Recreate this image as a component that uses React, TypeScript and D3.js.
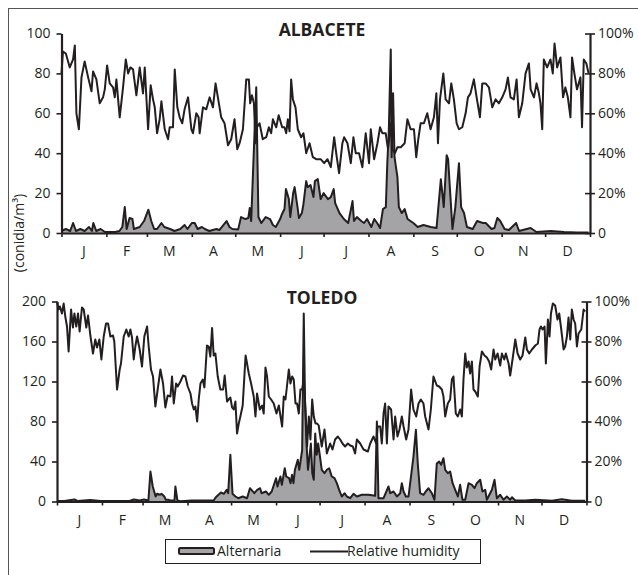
import React, { useEffect, useRef } from "react";
import * as d3 from "d3";

// month labels and the day each month starts on
const months = ["J", "F", "M", "A", "M", "J", "J", "A", "S", "O", "N", "D"];
const monthStarts = [0, 31, 59, 90, 120, 151, 181, 212, 243, 273, 304, 334, 365];
const albCountTicks = [0, 20, 40, 60, 80, 100];
const tolCountTicks = [0, 40, 80, 120, 160, 200];
const humidityTicks = [0, 20, 40, 60, 80, 100];

// [day of year, value]
const albHumidity: [number, number][] = [
  [0, 80], [1, 91], [3, 90], [5.7, 83], [8, 87], [9.2, 94], [10.3, 60], [12, 52], [13.8, 78], [16, 86],
  [18.4, 78], [20.7, 71], [21.8, 81], [24.1, 77], [26.4, 65], [28.7, 68], [29.9, 72], [31.5, 84], [33.3, 75],
  [35.6, 73], [36.8, 68], [37.9, 77], [40.2, 58], [42.5, 73], [44.4, 87], [46, 80], [47.6, 83], [49.4, 82],
  [51.7, 69], [54, 83], [56.3, 70], [57.5, 83], [59.8, 52], [61.6, 74], [63.2, 67], [64.4, 63], [66, 50],
  [67.8, 57], [69, 66], [71.3, 52], [73.6, 47], [74.7, 53], [77, 53], [78.2, 82], [80, 63], [81.6, 58],
  [83.4, 55], [85, 62], [87.4, 68], [89.7, 52], [90.8, 50], [93.1, 60], [94.7, 58], [95.4, 50], [97.7, 63],
  [100, 62], [102.3, 68], [104.6, 63], [106.4, 75], [108, 68], [110.3, 58], [112.6, 55], [115, 44],
  [117.2, 47], [119.5, 57], [121.4, 42], [123, 45], [125.3, 52], [127.6, 77], [129.4, 77], [130.3, 65],
  [131.5, 69], [132.9, 65], [134, 45], [135, 53], [136.8, 55], [139, 47], [141.4, 48], [143.2, 53],
  [144.8, 50], [146, 57], [148.3, 53], [150, 59], [152.4, 53], [154, 53], [155.2, 50], [156.3, 57],
  [157.5, 51], [158.6, 77], [159.8, 67], [161.6, 63], [163.2, 52], [165.5, 48], [167.1, 50], [169, 40],
  [171.3, 45], [173.6, 38], [175.9, 37], [178.2, 37], [179, 37], [181.4, 35], [183.7, 37], [186, 33],
  [188.3, 48], [190.1, 38], [191.7, 30], [194, 45], [195.2, 48], [197.5, 45], [199.8, 35], [201.6, 48],
  [203.2, 40], [205.5, 40], [207.8, 33], [210.1, 50], [212.4, 35], [213.6, 52], [215.9, 37], [218.2, 45],
  [220, 53], [221.6, 50], [223.9, 50], [225.5, 42], [227.4, 55], [228.5, 42], [230.3, 40], [232, 43],
  [234.3, 43], [237, 45], [238.9, 57], [241.1, 52], [243.4, 52], [245, 38], [246.4, 47], [248, 55],
  [250.3, 55], [252.6, 60], [254.9, 52], [257.2, 58], [258.9, 70], [260, 45], [261.4, 67], [263.7, 80],
  [265.3, 67], [267.6, 65], [269.2, 75], [271, 67], [272.9, 55], [274.5, 52], [276.8, 53], [279.1, 60],
  [280.7, 68], [282.5, 70], [284.8, 77], [286.7, 68], [289, 58], [290.6, 75], [292.9, 75], [295.2, 73],
  [297.5, 63], [299.8, 67], [302.1, 65], [304.4, 68], [306.7, 72], [308.3, 78], [310.1, 68], [312.4, 67],
  [314.3, 77], [315.9, 58], [318.2, 65], [320.5, 80], [322.8, 85], [324, 72], [326.3, 68], [328.1, 75],
  [329.7, 70], [330.8, 65], [332, 52], [333.1, 87], [335.4, 83], [337.7, 87], [339.3, 80], [340.5, 95],
  [342.3, 83], [344.6, 88], [346.4, 68], [348, 73], [349.7, 68], [351.5, 58], [352.6, 88], [354.2, 80],
  [356, 72], [358.4, 78], [359.5, 53], [360.7, 87], [362.5, 85], [364, 80],
];

const albAlternaria: [number, number][] = [
  [0, 1], [3, 2], [6, 1], [8, 5], [10, 1], [13, 2], [16, 1], [19, 3], [21, 1], [22, 5], [24, 1], [27, 2],
  [30, 0.5], [34, 0.5], [37, 0.5], [40, 1], [42, 3], [43.7, 13], [45, 2], [47, 7.5], [49, 7], [50, 2],
  [54, 3], [57, 6], [60, 11.7], [62, 6], [64, 2], [66, 2], [69, 5], [71, 3], [75, 2], [78, 1], [82, 2],
  [85, 4], [87, 2], [90, 5], [92, 5], [94, 2], [97, 3], [99, 2], [102, 1], [107, 2], [109, 1.5], [114, 6],
  [116, 3], [118, 2], [122, 1.7], [124, 8], [127, 7], [129, 7.5], [130, 12.5], [131, 6], [134.5, 73],
  [136, 8], [138, 5], [141, 8], [144, 7], [146, 4], [148, 3], [151, 7], [152, 9], [154, 12], [155, 22],
  [157, 17], [158, 8], [160, 20], [161, 23], [163, 13], [164, 7.5], [166, 10], [167, 14], [169, 26],
  [170, 23], [172, 24], [174, 18], [175, 26], [177, 27], [179, 17], [181, 20], [184, 17], [186, 18],
  [188, 22], [189, 15], [192, 10], [195, 7], [198, 5], [201, 16], [202, 6], [204, 8], [207, 6], [209, 5],
  [211, 7], [214, 3], [216, 7], [218, 5], [220, 2.5], [222, 12], [224, 13], [225, 35], [226, 50],
  [227.4, 92], [228, 38], [229, 70], [230, 38], [232, 28], [233, 13], [235, 10], [237, 12], [239, 7],
  [241, 6], [243, 5], [246, 3], [250, 4], [255, 3], [259, 2.5], [262, 27], [264, 13], [266, 39], [267, 37],
  [270, 2], [272, 13], [274.5, 35], [276, 13], [278, 10], [280, 3], [284, 2], [287, 6], [291, 5], [293, 5],
  [297, 2], [299, 2.5], [301, 7.5], [303, 6], [306, 2], [309, 1.5], [314, 5], [316, 1], [324, 2.5],
  [328, 0.5], [338, 1], [347, 0.5], [356, 0.3], [364, 0.3],
];

const tolHumidity: [number, number][] = [
  [0, 100], [1, 96], [2, 97.5], [3.4, 94], [4.6, 99], [5.7, 92.5], [6.9, 87.5], [8, 75], [9.7, 96], [11, 87],
  [12, 94], [13.3, 87.5], [14.5, 94], [15.6, 85], [17.2, 97], [18.4, 96], [20.2, 87], [21.4, 93], [23, 83],
  [24.8, 74], [26.4, 81], [27.6, 77], [29.2, 81], [30.6, 71], [32.2, 82.5], [33.8, 89], [35.2, 89],
  [36.8, 82.5], [38.6, 83], [39.5, 80], [41.4, 56], [43.2, 66], [44.1, 69], [46, 82.5], [47.8, 86],
  [49.4, 82.5], [50.6, 86], [51.7, 82], [52.9, 71], [54, 77.5], [55.2, 82.5], [57, 76], [58.6, 67.5],
  [60.2, 82.5], [62.1, 87.5], [63.2, 77.5], [64.8, 66], [66.2, 62.5], [67.8, 47.5], [69.4, 56], [71.3, 66],
  [73.1, 59], [74.7, 47], [76.3, 53], [78.2, 52.5], [79.3, 62.5], [80.5, 49], [82.1, 59], [83.2, 57.5],
  [85.1, 60], [86.9, 63], [88.5, 62.5], [90.1, 57.5], [92, 54], [93.1, 49], [94.3, 46], [95.4, 47.5],
  [96.6, 40], [97.7, 51], [98.9, 59], [100.5, 61], [101.6, 57], [103.4, 78], [104.6, 77.5], [105.7, 72.5],
  [106.9, 86.7], [108, 73], [109.2, 74], [110.8, 62.5], [112.6, 56], [114.5, 56], [115.6, 63], [117.2, 50],
  [119.5, 52], [120.7, 47], [121.8, 46], [123, 50], [124.1, 34], [125.3, 39], [126.4, 42.5], [128, 48],
  [130, 73], [131, 69], [132.2, 64], [133.8, 59], [135.6, 52.5], [136.8, 42.5], [137.9, 54], [139.8, 46],
  [141.4, 48], [142.5, 44], [143.7, 67], [144.8, 62.5], [146, 52.5], [147.6, 51], [149.4, 49], [151.3, 44],
  [152.9, 48], [155.2, 37.5], [156.3, 52.5], [157.5, 51], [159.8, 66], [160.9, 59], [162.1, 62.5],
  [163.2, 61], [164.4, 49], [165.5, 49], [166.7, 44], [167.8, 56], [169, 56], [170.1, 61], [171.3, 46],
  [172.4, 27.5], [173.6, 42.5], [174.7, 31], [175.9, 51], [177, 42.5], [178.2, 39], [179.3, 39], [180.4, 38],
  [182.5, 27.5], [184.4, 36], [186, 24], [188.3, 29], [189.9, 26], [191.7, 31], [193.6, 32.5], [195.2, 31],
  [196.8, 29], [198.6, 27.5], [200.5, 29], [202.1, 28], [203.9, 27.5], [205.5, 24], [206.7, 31], [209, 29],
  [211.3, 26], [214.3, 25], [215.9, 29], [218.2, 32.5], [220, 29], [221.1, 37.5], [222.8, 37.5], [223.9, 29],
  [225.1, 44], [226.2, 49], [227.4, 29], [228.5, 47.5], [230.3, 46], [232, 31], [233.1, 42.5], [234.7, 32.5],
  [236.1, 36], [237.7, 42.5], [238.9, 37.5], [240.7, 31], [242.3, 36], [244.1, 56], [245.7, 46],
  [247.6, 42.5], [249.2, 49], [250.8, 51], [252.6, 49], [253.8, 42.5], [256.1, 36], [257.7, 46],
  [259.5, 62.5], [261.8, 58], [263.4, 57.5], [265.3, 56], [266.4, 52.5], [267.6, 42.5], [269.4, 49],
  [271, 51], [272.2, 61], [273.3, 62.5], [274.9, 44], [276.3, 42.5], [277.9, 46], [279.1, 42.5], [280.2, 61],
  [281.4, 74], [282.5, 67], [283.7, 70], [284.8, 64], [286, 70], [287.1, 56], [288.3, 55], [290.1, 52.5],
  [291.3, 67.5], [292.9, 75], [294.7, 73], [296.3, 72], [297.9, 70], [299.3, 66], [300.9, 76], [302.1, 71],
  [303.7, 74], [305.5, 68], [306.7, 74], [308.3, 71], [309.4, 74], [311.3, 69], [312.4, 63], [314.3, 72.5],
  [315.9, 81], [317.5, 74], [319.3, 71], [320.9, 73], [322.8, 82], [323.9, 76], [325.5, 74], [327.4, 76],
  [329.7, 78], [331.5, 79], [332.6, 86], [333.6, 87.5], [334.7, 86], [336.1, 87.5], [337, 69], [338.4, 91],
  [339.5, 82.5], [340.5, 94], [341.8, 99], [343.4, 98], [345, 91], [346.2, 94], [347.6, 86], [349.2, 76],
  [350.3, 77.5], [351.5, 82.5], [352.6, 92], [353.8, 81], [354.9, 96], [356.1, 91], [357.2, 89],
  [358.4, 77.5], [359.5, 84], [361.4, 86], [363, 96], [364.1, 95],
];

const tolAlternaria: [number, number][] = [
  [0, 0.5], [5, 0.5], [12, 2], [14, 0.5], [23, 1.5], [30, 0.5], [40, 0.5], [50, 0.5], [53, 2], [57, 1],
  [60, 2], [63, 1], [64.4, 30], [66, 15], [68, 5], [69, 7.7], [71, 6.7], [72, 7.7], [74, 5], [75, 1.7],
  [77, 1.7], [78, 1], [81, 1], [81.6, 15], [83, 1], [85, 0.3], [93, 1], [100, 1], [108, 1], [109, 3.3],
  [110, 5], [113, 9], [115, 7.7], [117, 11.7], [118, 8.3], [119.5, 46.7], [121, 7.7], [123, 5], [125, 3.3],
  [128, 5], [131, 3.3], [133, 13.3], [136, 8.3], [138, 11.7], [140, 13.3], [141, 8.3], [144, 10], [146, 6.7],
  [148, 10], [151, 23.3], [152, 15], [154, 25], [155, 16.7], [157, 33.3], [158, 25], [160, 23.3],
  [161, 18.3], [162, 26.7], [163, 18.3], [164, 31.7], [166, 41.7], [167, 31.7], [169, 51.7], [170.1, 188],
  [171, 98], [172, 58], [173, 31.7], [175, 58], [176, 28.3], [177, 21.7], [178, 68], [179, 46.7], [180, 58],
  [181, 48], [182.5, 31.7], [184.4, 28.3], [186, 31.7], [187.6, 33.3], [189.4, 25], [191.3, 23.3],
  [192.9, 18.3], [194.5, 11.7], [196.3, 5], [198.3, 8.3], [199.8, 5], [202.1, 3.3], [204.4, 7.7],
  [206.7, 5], [210.1, 6.7], [214.7, 6.7], [219.3, 5.7], [220.5, 80], [221.6, 3.3], [225.1, 3.3],
  [228.5, 15], [229.7, 8.3], [232, 10], [234.3, 5], [236.6, 8.3], [237.7, 18.3], [238.9, 10], [240.5, 5],
  [242.3, 5], [244.6, 31.7], [245.7, 45], [247.4, 71.7], [248.7, 38], [250.3, 8.3], [252.6, 6.7],
  [254.2, 10], [256.1, 13.3], [258.4, 8.3], [260.2, 1.7], [261.8, 38], [263.4, 40], [264.8, 36.7],
  [266.4, 43.3], [267.6, 31.7], [269.4, 28.3], [271, 30], [272.7, 18.3], [274.5, 11.7], [276.3, 5],
  [277.9, 16.7], [279.5, 1.7], [281.4, 1.7], [283.7, 18.3], [286, 16.7], [287.8, 13.3], [289.4, 18.3],
  [291.7, 21.7], [293.3, 10], [295.2, 11.7], [296.3, 1.7], [299.8, 11.7], [301.6, 21.7], [303.2, 3.3],
  [305.5, 6.7], [307.8, 1.7], [310.1, 5], [312.4, 1.7], [313.6, 4.3], [315.9, 1], [322.8, 1], [329.7, 1.7],
  [341.2, 0.7], [348, 2.3], [354.9, 0.7], [364.1, 0.7],
];

const FONT = "'Open Sans', sans-serif";
const INK = "#231f20";
const GREY = "#a4a4a7";

interface Panel {
  title: string;
  left: number; right: number; top: number; bottom: number;
  countMax: number;
  countTicks: number[];
  alternaria: [number, number][];
  humidity: [number, number][];
}

function drawPanel(svg: d3.Selection<SVGSVGElement, unknown, null, undefined>, p: Panel) {
  const x = d3.scaleLinear().domain([0, 365]).range([p.left, p.right]);
  const y = d3.scaleLinear().domain([0, p.countMax]).range([p.bottom, p.top]);
  const yh = d3.scaleLinear().domain([0, 100]).range([p.bottom, p.top]);
  const g = svg.append("g");

  // Alternaria area + outline
  g.append("path")
    .datum(p.alternaria)
    .attr("fill", GREY)
    .attr("d", d3.area<[number, number]>().x(d => x(d[0])).y0(y(0)).y1(d => y(d[1])));
  g.append("path")
    .datum(p.alternaria)
    .attr("fill", "none")
    .attr("stroke", INK)
    .attr("stroke-width", 2)
    .attr("stroke-linejoin", "round")
    .attr("d", d3.line<[number, number]>().x(d => x(d[0])).y(d => y(d[1])));

  // humidity line
  g.append("path")
    .datum(p.humidity)
    .attr("fill", "none")
    .attr("stroke", INK)
    .attr("stroke-width", 2)
    .attr("stroke-linejoin", "round")
    .attr("d", d3.line<[number, number]>().x(d => x(d[0])).y(d => yh(d[1])));

  // left axis
  const la = g.append("g")
    .attr("transform", `translate(${p.left},0)`)
    .call(d3.axisLeft(y).tickValues(p.countTicks).tickSize(5).tickSizeOuter(0).tickPadding(6));
  // right axis
  const ra = g.append("g")
    .attr("transform", `translate(${p.right},0)`)
    .call(d3.axisRight(yh).tickValues(humidityTicks).tickSize(5).tickSizeOuter(0).tickPadding(3)
      .tickFormat((d: any) => (d === 0 ? "0" : d + "%")));
  ra.selectAll(".tick line").attr("x1", -5);
  // bottom axis, ticks at month boundaries
  const ba = g.append("g")
    .attr("transform", `translate(0,${p.bottom})`)
    .call(d3.axisBottom(x).tickValues(monthStarts).tickSize(4).tickSizeOuter(0).tickFormat(() => ""));

  [la, ra, ba].forEach(a => {
    a.select(".domain").attr("stroke", INK).attr("stroke-width", 2.2);
    a.selectAll(".tick line").attr("stroke", INK).attr("stroke-width", 1.6);
    a.selectAll("text").attr("fill", INK).style("font-family", FONT).style("font-size", "14px");
  });

  // month labels in the middle of each month
  g.selectAll("text.month")
    .data(months)
    .enter()
    .append("text")
    .attr("class", "month")
    .attr("x", (d, i) => x((monthStarts[i] + monthStarts[i + 1]) / 2))
    .attr("y", p.bottom + 23)
    .attr("text-anchor", "middle")
    .attr("fill", INK)
    .style("font-family", FONT)
    .style("font-size", "14px")
    .text(d => d);

  g.append("text")
    .attr("x", 322)
    .attr("y", p.top + 2)
    .attr("text-anchor", "middle")
    .attr("fill", INK)
    .style("font-family", FONT)
    .style("font-weight", "bold")
    .style("font-size", "17.5px")
    .text(p.title);
}

function App() {
  const ref = useRef<SVGSVGElement>(null);

  useEffect(() => {
    const svg = d3.select(ref.current!);
    svg.selectAll("*").remove();

    // outer frame
    svg.append("rect")
      .attr("x", 8.5).attr("y", 8.5).attr("width", 660).attr("height", 600)
      .attr("fill", "none").attr("stroke", "#555").attr("stroke-width", 1);

    drawPanel(svg, {
      title: "ALBACETE", left: 61.5, right: 590, top: 33.5, bottom: 233,
      countMax: 100, countTicks: albCountTicks, alternaria: albAlternaria, humidity: albHumidity,
    });
    drawPanel(svg, {
      title: "TOLEDO", left: 57, right: 586.5, top: 301.5, bottom: 501.5,
      countMax: 200, countTicks: tolCountTicks, alternaria: tolAlternaria, humidity: tolHumidity,
    });

    // y title shared by both panels
    svg.append("text")
      .attr("transform", "translate(24,233) rotate(-90)")
      .attr("text-anchor", "middle")
      .attr("fill", INK)
      .style("font-family", FONT)
      .style("font-size", "14px")
      .text("(conidia/m³)");

    // legend
    const lg = svg.append("g");
    lg.append("rect")
      .attr("x", 165.5).attr("y", 539.5).attr("width", 315).attr("height", 24)
      .attr("fill", "white").attr("stroke", INK).attr("stroke-width", 1);
    lg.append("rect")
      .attr("x", 179).attr("y", 548).attr("width", 35).attr("height", 6).attr("rx", 1.5)
      .attr("fill", GREY).attr("stroke", INK).attr("stroke-width", 2);
    lg.append("text")
      .attr("x", 217).attr("y", 556)
      .attr("fill", INK).style("font-family", FONT).style("font-size", "14px")
      .text("Alternaria");
    lg.append("line")
      .attr("x1", 310).attr("x2", 348).attr("y1", 551.5).attr("y2", 551.5)
      .attr("stroke", INK).attr("stroke-width", 1.8);
    lg.append("text")
      .attr("x", 347).attr("y", 556)
      .attr("fill", INK).style("font-family", FONT).style("font-size", "14px")
      .text("Relative humidity");
  }, []);

  return (
    <svg ref={ref} width={638} height={575}
      style={{ position: "absolute", left: 0, top: 0, background: "white" }} />
  );
}

export default App;
